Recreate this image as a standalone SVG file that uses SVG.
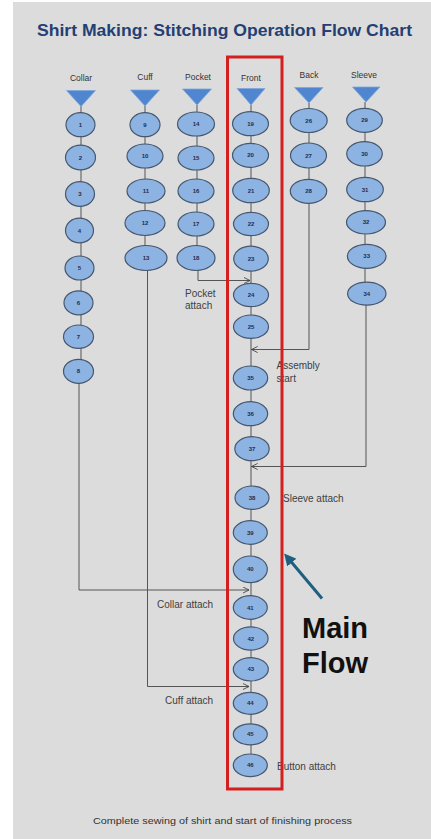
<svg xmlns="http://www.w3.org/2000/svg" width="431" height="839" viewBox="0 0 431 839">
<defs>
<style>
.bg{fill:#dcdcdc}
.title{font-family:"Liberation Sans",Arial,sans-serif;font-weight:bold;font-size:16.5px;fill:#243f73}
.col{font-family:"Liberation Sans",Arial,sans-serif;font-size:8.5px;fill:#333}
.lbl{font-family:"Liberation Sans",Arial,sans-serif;font-size:10px;fill:#404040}
.big{font-family:"Liberation Sans",Arial,sans-serif;font-weight:bold;font-size:29px;fill:#111}
.foot{font-family:"Liberation Sans",Arial,sans-serif;font-size:8.6px;fill:#333}
.n ellipse{fill:#8db3e2;stroke:#46576e;stroke-width:1.2}
.n text{font-family:"Liberation Sans",Arial,sans-serif;font-size:6px;font-weight:bold;fill:#1f2d4d;text-anchor:middle}
.tri{fill:#4f86cf;stroke:#7fa6dc;stroke-width:0.8}
.c{fill:none;stroke:#555;stroke-width:1}
.ca{fill:none;stroke:#555;stroke-width:1;marker-end:url(#chev)}
</style>
<marker id="chev" viewBox="0 0 8 8" refX="7" refY="4" markerWidth="7" markerHeight="7" markerUnits="userSpaceOnUse" orient="auto">
<path d="M0,0.5 L7,4 L0,7.5" fill="none" stroke="#444" stroke-width="1"/>
</marker>
<marker id="bluehead" viewBox="0 0 10 10" refX="5" refY="5" markerWidth="12" markerHeight="12" markerUnits="userSpaceOnUse" orient="auto">
<path d="M0,0 L10,5 L0,10 Z" fill="#1f5f7f"/>
</marker>
</defs>
<rect x="0" y="0" width="431" height="839" fill="#ffffff"/>
<rect class="bg" x="13" y="2" width="418" height="837"/>
<text class="title" x="37" y="36" textLength="375" lengthAdjust="spacingAndGlyphs">Shirt Making: Stitching Operation Flow Chart</text>

<g id="headers">
<text class="col" x="81" y="81" text-anchor="middle">Collar</text>
<text class="col" x="145" y="80" text-anchor="middle">Cuff</text>
<text class="col" x="198" y="80" text-anchor="middle">Pocket</text>
<text class="col" x="251" y="80.5" text-anchor="middle">Front</text>
<text class="col" x="309" y="78" text-anchor="middle">Back</text>
<text class="col" x="364" y="78" text-anchor="middle">Sleeve</text>
</g>

<g id="connectors">
<path class="c" d="M81,106 V371 M145,106 V258 M197,105 V258 M251,105 V765 M309,103 V191 M365,102 V294"/>
<path class="ca" d="M79,383 V590 H249"/>
<path class="ca" d="M147.5,270 V686.5 H249"/>
<path class="ca" d="M198,270 V280.5 H250"/>
<path class="ca" d="M309,203 V349.5 H251.5"/>
<path class="ca" d="M366,305 V466.5 H251.5"/>
</g>

<g id="sources">
<polygon class="tri" points="66.5,90.5 95.5,90.5 81,106.5"/>
<polygon class="tri" points="130.5,90 159.5,90 145,106"/>
<polygon class="tri" points="182.5,89 211.5,89 197,105"/>
<polygon class="tri" points="237,88.5 265,88.5 251,105"/>
<polygon class="tri" points="294.5,87.5 323,87.5 309,103"/>
<polygon class="tri" points="352.5,87 380,87 366,102"/>
</g>

<g id="n1" class="n"><ellipse cx="80.5" cy="124.7" rx="14.5" ry="12"/><text x="80.5" y="126.8">1</text></g>
<g id="n2" class="n"><ellipse cx="80.5" cy="157.5" rx="15" ry="12.3"/><text x="80.5" y="159.6">2</text></g>
<g id="n3" class="n"><ellipse cx="80" cy="194" rx="14.5" ry="12.3"/><text x="80" y="196.1">3</text></g>
<g id="n4" class="n"><ellipse cx="79.5" cy="230.5" rx="14" ry="12.3"/><text x="79.5" y="232.6">4</text></g>
<g id="n5" class="n"><ellipse cx="79.5" cy="268" rx="14.5" ry="12"/><text x="79.5" y="270.1">5</text></g>
<g id="n6" class="n"><ellipse cx="78.5" cy="302.8" rx="14.5" ry="12"/><text x="78.5" y="304.9">6</text></g>
<g id="n7" class="n"><ellipse cx="78.5" cy="336.7" rx="15" ry="11.7"/><text x="78.5" y="338.8">7</text></g>
<g id="n8" class="n"><ellipse cx="78.5" cy="371.3" rx="15" ry="12"/><text x="78.5" y="373.4">8</text></g>

<g id="n9" class="n"><ellipse cx="145" cy="124.7" rx="15" ry="12"/><text x="145" y="126.8">9</text></g>
<g id="n10" class="n"><ellipse cx="145" cy="156" rx="18" ry="12"/><text x="145" y="158.1">10</text></g>
<g id="n11" class="n"><ellipse cx="146" cy="191" rx="19" ry="12"/><text x="146" y="193.1">11</text></g>
<g id="n12" class="n"><ellipse cx="145" cy="223" rx="20" ry="12.5"/><text x="145" y="225.1">12</text></g>
<g id="n13" class="n"><ellipse cx="146" cy="258" rx="21" ry="12.5"/><text x="146" y="260.1">13</text></g>

<g id="n14" class="n"><ellipse cx="196" cy="124" rx="18.5" ry="12"/><text x="196" y="126.1">14</text></g>
<g id="n15" class="n"><ellipse cx="196" cy="158" rx="18" ry="12"/><text x="196" y="160.1">15</text></g>
<g id="n16" class="n"><ellipse cx="196" cy="191" rx="18" ry="12"/><text x="196" y="193.1">16</text></g>
<g id="n17" class="n"><ellipse cx="196" cy="224" rx="18" ry="12"/><text x="196" y="226.1">17</text></g>
<g id="n18" class="n"><ellipse cx="196" cy="258" rx="19" ry="12.5"/><text x="196" y="260.1">18</text></g>

<g id="n19" class="n"><ellipse cx="250.5" cy="123.7" rx="18" ry="12"/><text x="250.5" y="125.8">19</text></g>
<g id="n20" class="n"><ellipse cx="250.5" cy="155.3" rx="18" ry="12"/><text x="250.5" y="157.4">20</text></g>
<g id="n21" class="n"><ellipse cx="251" cy="190.5" rx="18.3" ry="12.2"/><text x="251" y="192.6">21</text></g>
<g id="n22" class="n"><ellipse cx="251" cy="224" rx="17.5" ry="11.7"/><text x="251" y="226.1">22</text></g>
<g id="n23" class="n"><ellipse cx="251" cy="258.7" rx="17.3" ry="12.5"/><text x="251" y="260.8">23</text></g>
<g id="n24" class="n"><ellipse cx="251" cy="295" rx="17.5" ry="11.7"/><text x="251" y="297.1">24</text></g>
<g id="n25" class="n"><ellipse cx="251" cy="326.7" rx="17.5" ry="11.7"/><text x="251" y="328.8">25</text></g>
<g id="n35" class="n"><ellipse cx="250.5" cy="378" rx="17.2" ry="12"/><text x="250.5" y="380.1">35</text></g>
<g id="n36" class="n"><ellipse cx="250.5" cy="413.7" rx="17.2" ry="12"/><text x="250.5" y="415.8">36</text></g>
<g id="n37" class="n"><ellipse cx="252" cy="448.7" rx="17.2" ry="12"/><text x="252" y="450.8">37</text></g>
<g id="n38" class="n"><ellipse cx="252" cy="497.7" rx="17" ry="11.7"/><text x="252" y="499.8">38</text></g>
<g id="n39" class="n"><ellipse cx="250.3" cy="532.5" rx="17" ry="11.8"/><text x="250.3" y="534.6">39</text></g>
<g id="n40" class="n"><ellipse cx="250.3" cy="569.3" rx="17" ry="13.3"/><text x="250.3" y="571.4">40</text></g>
<g id="n41" class="n"><ellipse cx="250.3" cy="607.5" rx="17" ry="11.8"/><text x="250.3" y="609.6">41</text></g>
<g id="n42" class="n"><ellipse cx="250.8" cy="638.5" rx="17.3" ry="11.7"/><text x="250.8" y="640.6">42</text></g>
<g id="n43" class="n"><ellipse cx="250.8" cy="669.3" rx="17.5" ry="11.7"/><text x="250.8" y="671.4">43</text></g>
<g id="n44" class="n"><ellipse cx="250.3" cy="703.3" rx="17" ry="11"/><text x="250.3" y="705.4">44</text></g>
<g id="n45" class="n"><ellipse cx="250.3" cy="734.3" rx="17" ry="10.5"/><text x="250.3" y="736.4">45</text></g>
<g id="n46" class="n"><ellipse cx="250.3" cy="765.3" rx="17" ry="11.3"/><text x="250.3" y="767.4">46</text></g>

<g id="n26" class="n"><ellipse cx="308.7" cy="120.5" rx="18.5" ry="12"/><text x="308.7" y="122.6">26</text></g>
<g id="n27" class="n"><ellipse cx="308.5" cy="155.5" rx="18" ry="12.5"/><text x="308.5" y="157.6">27</text></g>
<g id="n28" class="n"><ellipse cx="308.5" cy="191.3" rx="18.2" ry="12"/><text x="308.5" y="193.4">28</text></g>

<g id="n29" class="n"><ellipse cx="364.5" cy="120.3" rx="17.8" ry="12"/><text x="364.5" y="122.4">29</text></g>
<g id="n30" class="n"><ellipse cx="364.5" cy="153.8" rx="17.8" ry="12.2"/><text x="364.5" y="155.9">30</text></g>
<g id="n31" class="n"><ellipse cx="365" cy="189.5" rx="18.3" ry="12.2"/><text x="365" y="191.6">31</text></g>
<g id="n32" class="n"><ellipse cx="366" cy="222.3" rx="19.5" ry="11.7"/><text x="366" y="224.4">32</text></g>
<g id="n33" class="n"><ellipse cx="366.7" cy="256.3" rx="19.3" ry="12"/><text x="366.7" y="258.4">33</text></g>
<g id="n34" class="n"><ellipse cx="366.8" cy="293.7" rx="19.2" ry="11.5"/><text x="366.8" y="295.8">34</text></g>

<g id="labels">
<text class="lbl" x="185" y="296.7">Pocket</text>
<text class="lbl" x="185" y="309.3">attach</text>
<text class="lbl" x="276.5" y="369">Assembly</text>
<text class="lbl" x="276.5" y="381.5">start</text>
<text class="lbl" x="283" y="501.7">Sleeve attach</text>
<text class="lbl" x="157" y="608.3">Collar attach</text>
<text class="lbl" x="165" y="704">Cuff attach</text>
<text class="lbl" x="277" y="770">Button attach</text>
</g>

<rect id="main-flow-box" x="227.5" y="57" width="54.5" height="732" fill="none" stroke="#d3201f" stroke-width="3"/>

<g id="main-flow-callout">
<line x1="322" y1="598.5" x2="288" y2="558" stroke="#1f5f7f" stroke-width="3" marker-end="url(#bluehead)"/>
<text class="big" x="302" y="637.5">Main</text>
<text class="big" x="302" y="672.7">Flow</text>
</g>

<text class="foot" x="222.5" y="824.3" text-anchor="middle" textLength="259" lengthAdjust="spacingAndGlyphs">Complete sewing of shirt and start of finishing process</text>
</svg>
